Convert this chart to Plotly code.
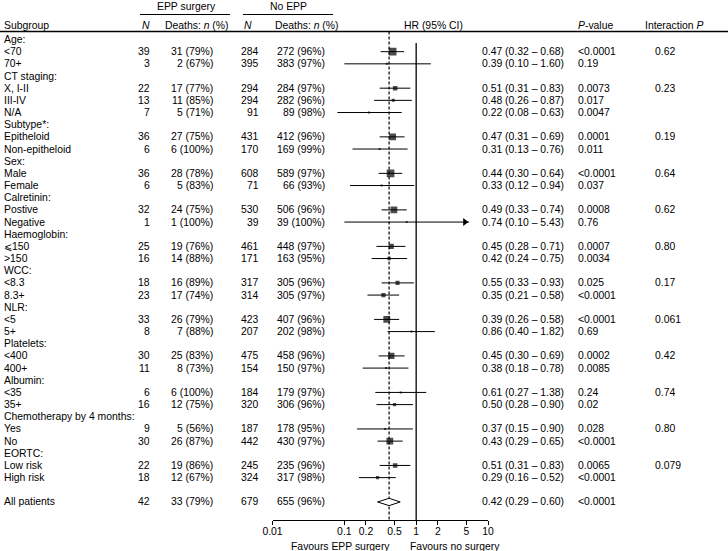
import plotly.graph_objects as go
import math

# ---------------- data ----------------
subgroups = ["Age:", "<70", "70+", "CT staging:", "X, I-II", "III-IV", "N/A",
             "Subtype*:", "Epitheloid", "Non-epitheloid", "Sex:", "Male", "Female",
             "Calretinin:", "Postive", "Negative", "Haemoglobin:", "⩽150", ">150",
             "WCC:", "<8.3", "8.3+", "NLR:", "<5", "5+", "Platelets:", "<400", "400+",
             "Albumin:", "<35", "35+", "Chemotherapy by 4 months:", "Yes", "No",
             "EORTC:", "Low risk", "High risk", "", "All patients"]

epp_n = [None, 39, 3, None, 22, 13, 7, None, 36, 6, None, 36, 6, None, 32, 1, None, 25, 16,
         None, 18, 23, None, 33, 8, None, 30, 11, None, 6, 16, None, 9, 30, None, 22, 18, None, 42]
epp_deaths = [None, 31, 2, None, 17, 11, 5, None, 27, 6, None, 28, 5, None, 24, 1, None, 19, 14,
              None, 16, 17, None, 26, 7, None, 25, 8, None, 6, 12, None, 5, 26, None, 19, 12, None, 33]
epp_pct = [None, 79, 67, None, 77, 85, 71, None, 75, 100, None, 78, 83, None, 75, 100, None, 76, 88,
           None, 89, 74, None, 79, 88, None, 83, 73, None, 100, 75, None, 56, 87, None, 86, 67, None, 79]

noepp_n = [None, 284, 395, None, 294, 294, 91, None, 431, 170, None, 608, 71, None, 530, 39, None, 461, 171,
           None, 317, 314, None, 423, 207, None, 475, 154, None, 184, 320, None, 187, 442, None, 245, 324, None, 679]
noepp_deaths = [None, 272, 383, None, 284, 282, 89, None, 412, 169, None, 589, 66, None, 506, 39, None, 448, 163,
                None, 305, 305, None, 407, 202, None, 458, 150, None, 179, 306, None, 178, 430, None, 235, 317, None, 655]
noepp_pct = [None, 96, 97, None, 97, 96, 98, None, 96, 99, None, 97, 93, None, 96, 100, None, 97, 95,
             None, 96, 97, None, 96, 98, None, 96, 97, None, 97, 96, None, 95, 97, None, 96, 98, None, 96]

hr = [None, 0.47, 0.39, None, 0.51, 0.48, 0.22, None, 0.47, 0.31, None, 0.44, 0.33, None, 0.49, 0.74, None, 0.45, 0.42,
      None, 0.55, 0.35, None, 0.39, 0.86, None, 0.45, 0.38, None, 0.61, 0.50, None, 0.37, 0.43, None, 0.51, 0.29, None, 0.42]
ci_lo = [None, 0.32, 0.10, None, 0.31, 0.26, 0.08, None, 0.31, 0.13, None, 0.30, 0.12, None, 0.33, 0.10, None, 0.28, 0.24,
         None, 0.33, 0.21, None, 0.26, 0.40, None, 0.30, 0.18, None, 0.27, 0.28, None, 0.15, 0.29, None, 0.31, 0.16, None, 0.29]
ci_hi = [None, 0.68, 1.60, None, 0.83, 0.87, 0.63, None, 0.69, 0.76, None, 0.64, 0.94, None, 0.74, 5.43, None, 0.71, 0.75,
         None, 0.93, 0.58, None, 0.58, 1.82, None, 0.69, 0.78, None, 1.38, 0.90, None, 0.90, 0.65, None, 0.83, 0.52, None, 0.60]

p_value = [None, "<0.0001", "0.19", None, "0.0073", "0.017", "0.0047", None, "0.0001", "0.011", None, "<0.0001", "0.037",
           None, "0.0008", "0.76", None, "0.0007", "0.0034", None, "0.025", "<0.0001", None, "<0.0001", "0.69", None,
           "0.0002", "0.0085", None, "0.24", "0.02", None, "0.028", "<0.0001", None, "0.0065", "<0.0001", None, "<0.0001"]
interaction_p = [None, "0.62", None, None, "0.23", None, None, None, "0.19", None, None, "0.64", None, None, "0.62",
                 None, None, "0.80", None, None, "0.17", None, None, "0.061", None, None, "0.42", None, None, "0.74",
                 None, None, "0.80", None, None, "0.079", None, None, None]

tick_vals = [0.01, 0.1, 0.2, 0.5, 1, 2, 5, 10]
tick_text = ["0.01", "0.1", "0.2", "0.5", "1", "2", "5", "10"]

# ---------------- layout helpers ----------------
W, H = 728, 551
ROW0_PX, ROW_PX, AXIS_PX = 39.5, 12.17, 520
FONT = "Liberation Sans, Arial, Helvetica, sans-serif"
FS = 10.4
TXT = "#000000"


def row_of(px):
    return (px - ROW0_PX) / ROW_PX


def px(x):
    return x / W


rows = list(range(len(subgroups)))
overall = subgroups.index("All patients")
overall_hr = hr[overall]

fig = go.Figure()

# reference lines
fig.add_trace(go.Scatter(x=[1, 1], y=[row_of(43), row_of(AXIS_PX)], mode="lines",
                         line=dict(color="black", width=1.3), hoverinfo="skip"))
fig.add_trace(go.Scatter(x=[overall_hr, overall_hr], y=[row_of(31.5), row_of(AXIS_PX)], mode="lines",
                         line=dict(color="black", width=1.2, dash="3px,2px"), hoverinfo="skip"))

# CI lines
cx, cy = [], []
for r in rows:
    if hr[r] is None or r == overall:
        continue
    cx += [ci_lo[r], ci_hi[r], None]
    cy += [r, r, None]
fig.add_trace(go.Scatter(x=cx, y=cy, mode="lines", line=dict(color="black", width=1), hoverinfo="skip"))

# squares sized by precision
mx, my, ms = [], [], []
for r in rows:
    if hr[r] is None or r == overall:
        continue
    w = math.log(ci_hi[r] / ci_lo[r])
    mx.append(hr[r]); my.append(r); ms.append(max(2.0, 4.4 / (w * w)))
fig.add_trace(go.Scatter(x=mx, y=my, mode="markers",
                         marker=dict(symbol="square", size=ms, color="black", line=dict(width=0)),
                         hoverinfo="skip"))

# arrows for CIs beyond 5
ax, ay = [], []
for r in rows:
    if hr[r] is None or r == overall:
        continue
    if ci_hi[r] > 5:
        ax.append(ci_hi[r] / 10 ** (4 / 72)); ay.append(r)
fig.add_trace(go.Scatter(x=ax, y=ay, mode="markers",
                         marker=dict(symbol="triangle-right", size=7, color="black", line=dict(width=0)),
                         hoverinfo="skip"))

# overall diamond
h = 0.3
fig.add_trace(go.Scatter(x=[ci_lo[overall], overall_hr, ci_hi[overall], overall_hr, ci_lo[overall]],
                         y=[overall, overall - h, overall, overall + h, overall],
                         mode="lines", fill="toself", fillcolor="white",
                         line=dict(color="black", width=1), hoverinfo="skip"))

# ---------------- text ----------------
ann = []


def add(text, x, y, anchor="left", yref="y", size=FS):
    ann.append(dict(text=text, x=px(x), xref="paper", y=y, yref=yref, xanchor=anchor,
                    yanchor="middle", showarrow=False, font=dict(family=FONT, size=size, color=TXT)))


# headers
add("EPP surgery", 186, row_of(6.5), "center")
add("No EPP", 288, row_of(6.5), "center")
add("Subgroup", 2, row_of(25))
add("<i>N</i>", 146, row_of(25), "center")
add("Deaths: <i>n</i> (%)", 163, row_of(25))
add("<i>N</i>", 247.5, row_of(25), "center")
add("Deaths: <i>n</i> (%)", 273, row_of(25))
add("HR (95% CI)", 433, row_of(25), "center")
add("<i>P</i>-value", 576, row_of(25))
add("Interaction <i>P</i>", 643, row_of(25))

for r in rows:
    if subgroups[r]:
        add(subgroups[r], 2, r)
    if epp_n[r] is not None:
        add(str(epp_n[r]), 152, r, "right")
        add(f"{epp_deaths[r]} ({epp_pct[r]}%)", 215, r, "right")
        add(str(noepp_n[r]), 261, r, "right")
        add(f"{noepp_deaths[r]} ({noepp_pct[r]}%)", 327, r, "right")
    if hr[r] is not None:
        add(f"{hr[r]:.2f} ({ci_lo[r]:.2f} – {ci_hi[r]:.2f})", 480, r)
        add(p_value[r], 576, r)
    if interaction_p[r] is not None:
        add(interaction_p[r], 653, r)

add("Favours EPP surgery", 392, (H - 546) / H, "right", yref="paper")
add("Favours no surgery", 408, (H - 546) / H, "left", yref="paper")

# header rules
shapes = [
    dict(type="line", xref="paper", yref="y", x0=0, x1=1, y0=row_of(31.5), y1=row_of(31.5),
         line=dict(color="black", width=1.4)),
    dict(type="line", xref="paper", yref="y", x0=px(140), x1=px(230), y0=row_of(14.5), y1=row_of(14.5),
         line=dict(color="black", width=1)),
    dict(type="line", xref="paper", yref="y", x0=px(243), x1=px(333), y0=row_of(14.5), y1=row_of(14.5),
         line=dict(color="black", width=1)),
]

fig.update_layout(
    template="none",
    width=W, height=H,
    margin=dict(l=0, r=0, t=0, b=0, pad=0, autoexpand=False),
    paper_bgcolor="white", plot_bgcolor="white",
    showlegend=False,
    annotations=ann,
    shapes=shapes,
    xaxis=dict(type="log", range=[-2, 1], domain=[272.5 / W, 488 / W], anchor="y",
               showline=True, linecolor="black", linewidth=1, mirror=False,
               ticks="outside", ticklen=4, tickwidth=1, tickcolor="black",
               tickvals=tick_vals, ticktext=tick_text, ticklabelstandoff=-2,
               tickfont=dict(family=FONT, size=FS, color=TXT),
               showgrid=False, zeroline=False, automargin=False, fixedrange=True),
    yaxis=dict(range=[row_of(AXIS_PX), row_of(0)], domain=[(H - AXIS_PX) / H, 1],
               visible=False, showgrid=False, zeroline=False, automargin=False, fixedrange=True),
)

fig.write_html("out.html", config={"displayModeBar": False},
               post_script="document.body.style.margin='0';document.body.style.overflow='hidden';")
